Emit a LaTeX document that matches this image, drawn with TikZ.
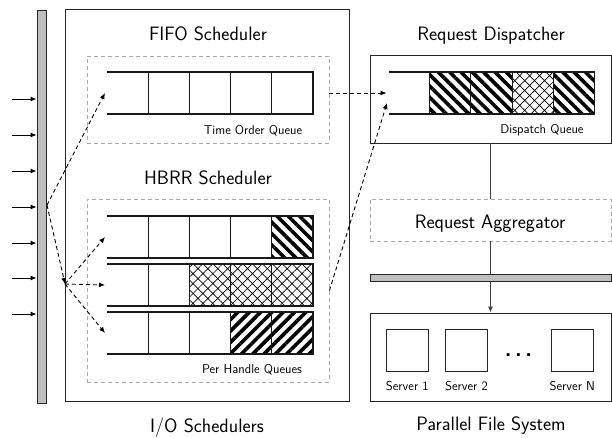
\documentclass[tikz,border=0pt]{standalone}
\usetikzlibrary{arrows.meta,patterns.meta}

% one queue: name of its entry point, left x, top y, five cell fills
\newcommand\drawqueue[4]{%
  \foreach \s [count=\k from 0] in {#4} {
    \path[\s] ({#2+41.2*\k},#3) rectangle ({#2+41.2*(\k+1)},{#3+42});
  }
  \foreach \k in {1,...,4} \draw[qline] ({#2+41.2*\k},#3) -- ({#2+41.2*\k},{#3+42});
  \draw[qline] (#2,#3) -- ({#2+206},#3) -- ({#2+206},{#3+42}) -- (#2,{#3+42});
  \coordinate (#1) at ({#2-2},{#3+21});
}

\begin{document}
\begin{tikzpicture}[x=1pt,y=-1pt,font=\sffamily,
  frame/.style={draw=black!85,line width=0.95pt,inner sep=0pt},
  grp/.style={draw=gray!65,line width=0.9pt,dash pattern=on 4pt off 3pt,inner sep=0pt},
  busbar/.style={draw=black!85,fill=gray!50,line width=0.9pt,inner sep=0pt},
  qline/.style={draw=black!90,line width=1.1pt},
  flow/.style={black,line width=0.9pt,dash pattern=on 4pt off 3pt,-{Latex[length=6pt,width=5pt]}},
  feed/.style={black,line width=1pt,-{Latex[length=6pt,width=5pt]}},
  link/.style={draw=black!75,line width=1pt},
  big/.style={font=\sffamily\fontsize{19.4}{23}\selectfont,inner sep=0pt,anchor=base},
  small/.style={font=\sffamily\fontsize{12.8}{15}\selectfont,inner sep=0pt,anchor=base},
  blank/.style={},
  sdown/.style={pattern={Lines[angle=-45,distance=8pt,line width=3.6pt]}},
  sright/.style={pattern={Lines[angle=45,distance=8pt,line width=3.6pt]}},
  hatchy/.style={pattern={Hatch[angle=45,distance=7pt,line width=0.7pt]}},
]
\useasboundingbox (0,0) rectangle (612,437);

% ---------- incoming request bus ----------
\node[busbar,minimum width=9pt,minimum height=393pt] (bus) at (41.5,206.5) {};
\foreach \y [count=\i] in {99,135,171,207,243,278,314} {
  \coordinate (in\i) at (12,\y);
  \draw[feed] (in\i) -- (in\i -| bus.west);
}

% ---------- I/O schedulers ----------
\node[frame,minimum width=284pt,minimum height=392pt] (io) at (207,205) {};
\node[big] (fifot) at (208,40.5) {FIFO Scheduler};
\node[grp,minimum width=242pt,minimum height=87pt] (fifo) at (208,99.5) {};
\drawqueue{fq}{107}{72}{blank,blank,blank,blank,blank}
\node[small] (fifol) at (253,134) {Time Order Queue};

\node[big] (hbrrt) at (208,184.5) {HBRR Scheduler};
\node[grp,minimum width=242pt,minimum height=183pt] (hbrr) at (208,290.5) {};
\drawqueue{q1}{107}{216}{blank,blank,blank,blank,sdown}
\drawqueue{q2}{107}{264}{blank,blank,hatchy,hatchy,hatchy}
\drawqueue{q3}{107}{312}{blank,blank,blank,sright,sright}
\node[small] (hbrrl) at (252,373) {Per Handle Queues};

\node[big] (iot) at (207,432) {I/O Schedulers};

% requests routed from the bus to the schedulers
\coordinate (tap) at (47,205);
\coordinate (hub) at (65,284);
\draw[flow] (tap) -- (fq);
\draw[flow] (tap) -- (hub);
\draw[flow] (hub) -- (q1);
\draw[flow] (hub) -- (q2);
\draw[flow] (hub) -- (q3);

% ---------- request dispatcher ----------
\node[big] (dispt) at (491,40.5) {Request Dispatcher};
\node[frame,minimum width=241pt,minimum height=88pt] (disp) at (490.5,99) {};
\drawqueue{dq}{388.5}{72}{blank,sdown,sdown,hatchy,sdown}
\coordinate (dq2) at (387,103);
\node[small] (displ) at (542,133) {Dispatch Queue};

\draw[flow] (fifo.east |- dq) -- (dq);
\draw[flow] (hbrr.east) -- (dq2);

% ---------- aggregator and file system ----------
\node[grp,minimum width=241pt,minimum height=42pt] (agg) at (490.5,220) {};
\node[big] (aggt) at (490,228) {Request Aggregator};
\node[busbar,minimum width=241pt,minimum height=7pt] (pbus) at (490.5,277.5) {};
\node[frame,minimum width=241pt,minimum height=88pt] (pfs) at (490.5,357) {};

\draw[link] (disp.south -| agg.north) -- (agg.north);
\draw[link] (agg.south) -- (pbus.north);
\draw[link,-{Latex[length=6pt,width=5pt]}] (pbus.south) -- (pfs.north);

\node[frame,minimum size=42pt] (s1) at (407.3,350) {};
\node[frame,minimum size=42pt] (s2) at (466.5,350) {};
\node[frame,minimum size=42pt] (sn) at (572.3,350) {};
\node[font=\sffamily\bfseries\fontsize{22}{24}\selectfont,inner sep=0pt,anchor=base] (dots) at (518.5,356.5) {.\kern3.5pt.\kern3.5pt.};
\node[small] (s1l) at (407.3,390) {Server 1};
\node[small] (s2l) at (466.5,390) {Server 2};
\node[small] (snl) at (572.3,390) {Server N};

\node[big] (pfst) at (491,430) {Parallel File System};
\end{tikzpicture}
\end{document}
